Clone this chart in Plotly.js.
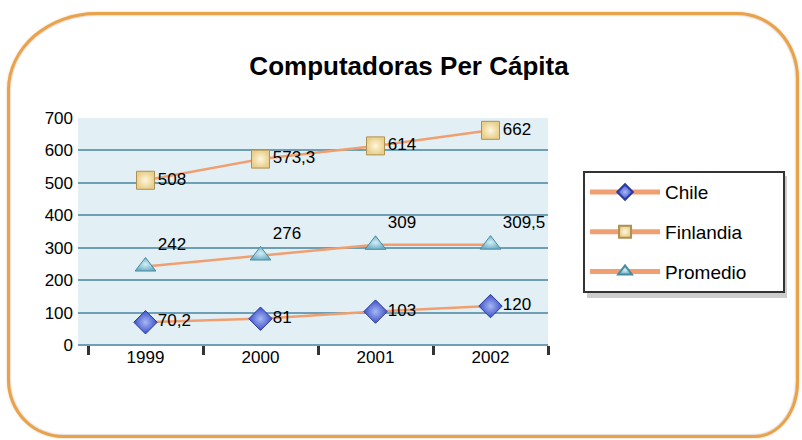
<!DOCTYPE html>
<html>
<head>
<meta charset="utf-8">
<script src="https://cdn.plot.ly/plotly-3.0.1.min.js"></script>
<style>
  html, body { margin: 0; padding: 0; background: #ffffff; }
  #wrap { position: relative; width: 802px; height: 440px; overflow: hidden; background: #ffffff; }
  #frame {
    position: absolute; left: 7px; top: 12px; width: 792px; height: 426px; box-sizing: border-box;
    border: 3px solid #e9a24c;
    border-radius: 90px 62px 44px 56px / 78px 66px 56px 58px;
    background: #ffffff;
    box-shadow: inset 0 0 2px rgba(120,70,20,0.6), 0 0 2px rgba(220,140,40,0.5);
  }
  #chart { position: absolute; left: 0; top: 0; width: 802px; height: 440px; }
</style>
</head>
<body>
<div id="wrap">
  <div id="frame"></div>
  <div id="chart"></div>
</div>
<script>
const years = ['1999', '2000', '2001', '2002'];
const chile = [70.2, 81, 103, 120];
const finlandia = [508, 573.3, 614, 662];
const promedio = [242, 276, 309, 309.5];
const seriesNames = ['Chile', 'Finlandia', 'Promedio'];
const yTicks = [0, 100, 200, 300, 400, 500, 600, 700];

const fmt = v => String(v).replace('.', ',');
const FONT = 'Liberation Sans, Arial, sans-serif';
const lineColor = '#f0a070';
const legendPad = '&nbsp;'.repeat(6);

function series(name, values, symbol, color, gradColor, edge, textpos, group) {
  return {
    type: 'scatter', mode: 'lines+markers+text', name: name + legendPad,
    x: years, y: values, text: values.map(fmt),
    textposition: textpos, cliponaxis: false,
    textfont: { family: FONT, size: 17, color: '#000000' },
    line: { color: lineColor, width: 2.5 },
    marker: { symbol: symbol, size: 18, color: color,
              gradient: { type: 'radial', color: gradColor },
              line: { color: edge, width: 1 } },
    legendgroup: group, hoverinfo: 'x+y'
  };
}

const data = [
  series(seriesNames[0], chile, 'diamond', '#3a4fc8', '#a8b8f4', '#2c3aa0', 'middle right', 'a'),
  series(seriesNames[1], finlandia, 'square', '#e8cf8c', '#fff6dc', '#b09050', 'middle right', 'b'),
  series(seriesNames[2], promedio, 'triangle-up', '#6fb2c8', '#d4eef6', '#4a8aa0', 'top right', 'c')
];

const layout = {
  width: 802, height: 440,
  margin: { l: 78, r: 254, t: 118, b: 95 },
  paper_bgcolor: 'rgba(0,0,0,0)',
  plot_bgcolor: '#e2eff4',
  font: { family: FONT, size: 17, color: '#000000' },
  title: { text: '<b>Computadoras Per Cápita</b>', font: { family: FONT, size: 26, color: '#000000' },
           x: 0.51, xanchor: 'center', y: 0.85, yanchor: 'middle' },
  xaxis: {
    type: 'category', range: [-0.587, 3.5],
    tickson: 'boundaries', ticks: 'outside', ticklen: 9, tickwidth: 3, tickcolor: '#333333',
    showgrid: false, showline: false, zeroline: false,
    tickfont: { family: FONT, size: 17, color: '#000000' }
  },
  yaxis: {
    range: [0, 700], tickvals: yTicks, ticktext: yTicks.map(String),
    showgrid: true, gridcolor: '#6e9fb4', gridwidth: 2,
    zeroline: true, zerolinecolor: '#6e9fb4', zerolinewidth: 2,
    showline: false, ticks: '', ticklabelstandoff: 4,
    tickfont: { family: FONT, size: 17, color: '#000000' }
  },
  showlegend: true,
  legend: {
    xref: 'container', yref: 'container', x: 0.727, y: 0.611, xanchor: 'left', yanchor: 'top',
    bgcolor: '#ffffff', bordercolor: '#333333', borderwidth: 2,
    font: { family: FONT, size: 19, color: '#000000' },
    traceorder: 'grouped', tracegroupgap: 12, itemsizing: 'constant', itemwidth: 70
  },
  shapes: [{
    type: 'rect', xref: 'paper', yref: 'paper', layer: 'below',
    x0: (587 - 78) / 470, x1: (787 - 78) / 470, y0: (345 - 298) / 227, y1: (345 - 176) / 227,
    fillcolor: '#cccccc', line: { width: 0 }
  }],
  separators: ',.'
};

Plotly.newPlot('chart', data, layout, { displayModeBar: false, staticPlot: true });
</script>
</body>
</html>
